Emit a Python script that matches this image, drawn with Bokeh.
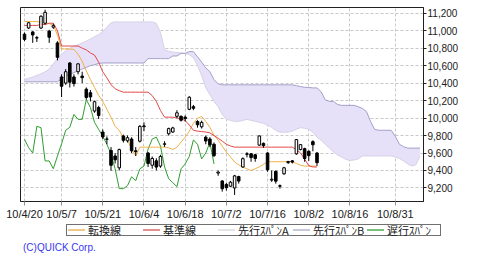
from bokeh.plotting import figure
from bokeh.models import Range1d, FixedTicker, NumeralTickFormatter, ColumnDataSource, Div
from bokeh.layouts import column
from bokeh.embed import file_html
from bokeh.resources import INLINE

# ---- data (x = trading-day index, 0 = 2010/4/20) ----
opens = [10960, 11030, 10985, 10920, 11030, 11085, 10995, 11040, 10860, 10470,
         10400, 10630, 10470, 10530, 10480, 10330, 10290, 10080, 10120, 9840,
         9760, 9630, 9566, 9430, 9795, 9740, 9760, 9625, 9735, 9910,
         9600, 9460, 9510, 9450, 9700, 9820, 9840, 10020, 10020, 10010,
         10100, 10130, 9960, 9900, 9781, 9760, 9700, 9370, 9280, 9240,
         9220, 9200, 9330, 9440, 9590, 9590, 9580, 9690, 9710, 9600,
         9290, 9390, 9225, 9362, 9490, 9510, 9590, 9640, 9650, 9620,
         9730, 9600]
highs = [10980, 11100, 10995, 10940, 11175, 11240, 11010, 11080, 10880, 10500,
         10560, 10640, 10500, 10630, 10530, 10350, 10320, 10200, 10140, 9870,
         9790, 9668, 9600, 9650, 9810, 9800, 9780, 9668, 9920, 9951,
         9610, 9560, 9540, 9580, 9735, 9890, 9900, 10090, 10030, 10030,
         10250, 10150, 9975, 9970, 9800, 9781, 9720, 9400, 9290, 9260,
         9280, 9350, 9340, 9550, 9610, 9600, 9590, 9800, 9720, 9610,
         9400, 9400, 9240, 9441, 9510, 9520, 9760, 9700, 9660, 9630,
         9745, 9610]
lows = [10880, 11020, 10860, 10870, 11020, 11070, 10860, 11020, 10660, 10240,
        10380, 10350, 10360, 10500, 10400, 10210, 10190, 10060, 9990, 9760,
        9700, 9396, 9480, 9400, 9720, 9720, 9600, 9566, 9720, 9850,
        9440, 9420, 9400, 9430, 9670, 9800, 9830, 10000, 9960, 9960,
        10090, 10090, 9890, 9880, 9700, 9667, 9554, 9339, 9158, 9170,
        9210, 9120, 9250, 9430, 9550, 9500, 9500, 9680, 9660, 9385,
        9270, 9249, 9192, 9350, 9475, 9480, 9580, 9630, 9500, 9510,
        9620, 9452]
closes = [10900, 11090, 10950, 10915, 11165, 11210, 10925, 11057, 10695, 10364,
          10530, 10411, 10394, 10620, 10462, 10235, 10242, 10187, 10030, 9784,
          9758, 9459, 9522, 9639, 9745, 9775, 9625, 9615, 9905, 9901,
          9480, 9537, 9439, 9560, 9705, 9879, 9887, 10060, 9975, 9995,
          10238, 10112, 9923, 9950, 9737, 9693, 9570, 9382, 9191, 9203,
          9266, 9338, 9279, 9535, 9585, 9548, 9537, 9795, 9685, 9408,
          9300, 9278, 9220, 9431, 9503, 9496, 9753, 9696, 9537, 9570,
          9694, 9489]

tenkan = [11105, 11105, 11105, 11105, 11090, 11090, 11080, 11060, 10950, 10790,
          10790, 10790, 10785, 10730, 10650, 10540, 10440, 10350, 10260, 10190,
          10100, 10010, 9905, 9860, 9770, 9750, 9645, 9565, 9667, 9667,
          9667, 9667, 9667, 9667, 9667, 9660, 9640, 9667, 9724, 9781,
          9849, 9940, 9996, 10019, 9962, 9894, 9803, 9747, 9679, 9611,
          9554, 9498, 9464, 9441, 9419, 9400, 9420, 9440, 9470, 9500,
          9500, 9500, 9500, 9500, 9500, 9500, 9480, 9460, 9450, 9450,
          9450, 9450]
kijun = [11060, 11060, 11060, 11060, 11070, 11070, 11085, 11085, 11000, 10824,
         10824, 10824, 10824, 10824, 10800, 10780, 10745, 10720, 10640, 10528,
         10460, 10381, 10336, 10313, 10296, 10296, 10296, 10296, 10296, 10296,
         10296, 10257, 10190, 10087, 10010, 10010, 10010, 10000, 9990, 9973,
         9920, 9860, 9850, 9845, 9840, 9830, 9800, 9770, 9735, 9700,
         9680, 9667, 9667, 9667, 9667, 9667, 9667, 9667, 9667, 9667,
         9667, 9667, 9667, 9667, 9667, 9667, 9640, 9600, 9530, 9455,
         9440, 9440]
senkou_a = [10440, 10455, 10470, 10490, 10505, 10530, 10560, 10620, 10680, 10730,
            10770, 10800, 10820, 10840, 10860, 10880, 10905, 10930, 10955, 10990,
            11040, 11090, 11100, 11100, 11100, 11100, 11100, 11100, 11100, 11100,
            11100, 11100, 11083, 10980, 10780, 10765, 10755, 10750, 10745, 10740,
            10725, 10690, 10600, 10485, 10347, 10268, 10190, 10130, 10040, 9985,
            9973, 9962, 9962, 9973, 9985, 9973, 9962, 9950, 9940, 9917,
            9894, 9860, 9838, 9838, 9838, 9849, 9872, 9890, 9883, 9872,
            9838, 9781, 9747, 9701, 9656, 9611, 9577, 9554, 9526, 9515,
            9520, 9532, 9566, 9566, 9566, 9566, 9566, 9566, 9566, 9566,
            9554, 9537, 9509, 9475, 9452, 9464, 9566]
senkou_b = [10415, 10415, 10415, 10415, 10415, 10415, 10415, 10415, 10415, 10450,
            10480, 10500, 10520, 10540, 10560, 10580, 10600, 10610, 10625, 10630,
            10630, 10630, 10630, 10630, 10630, 10630, 10630, 10630, 10630, 10630,
            10680, 10680, 10680, 10680, 10680, 10680, 10710, 10710, 10740, 10740,
            10760, 10760, 10700, 10640, 10575, 10530, 10440, 10392, 10380, 10380,
            10380, 10380, 10380, 10380, 10380, 10380, 10380, 10380, 10380, 10380,
            10380, 10380, 10380, 10380, 10380, 10380, 10370, 10360, 10352, 10350,
            10345, 10345, 10300, 10210, 10190, 10190, 10155, 10145, 10145, 10145,
            10145, 10130, 10110, 10075, 9962, 9870, 9860, 9860, 9860, 9860,
            9792, 9700, 9673, 9656, 9656, 9656, 9656]
chikou = [9758, 9662, 9600, 9905, 9890, 9509, 9509, 9420, 9566, 9705,
          9860, 9894, 10041, 9985, 9985, 10211, 10121, 9950, 9870, 9790,
          9700, 9588, 9419, 9192, 9192, 9226, 9328, 9283, 9419, 9450,
          9645, 9760, 9781, 9680, 9441, 9305, 9260, 9215, 9419, 9475,
          9560, 9750, 9700, 9532, 9600, 9720, 9475]

tick_idx = [0, 9, 19, 29, 39, 49, 59, 69, 79, 90]
tick_labels = ["10/4/20", "10/5/7", "10/5/21", "10/6/4", "10/6/18",
               "10/7/2", "10/7/16", "10/8/2", "10/8/16", "10/8/31"]
y_ticks = [9200, 9400, 9600, 9800, 10000, 10200, 10400, 10600, 10800, 11000, 11200]

legend_labels = ["転換線", "基準線", "先行ｽﾊﾟﾝA", "先行ｽﾊﾟﾝB", "遅行ｽﾊﾟﾝ"]
copyright_text = "(C)QUICK Corp."

# ---- styles ----
C_TENKAN = "#F0B048"
C_KIJUN = "#E24848"
C_A = "#D6D2E6"
C_B = "#A4A0C8"
C_CLOUD = "#E6E0F8"
C_CHIKOU = "#2E9E2E"
LEG_COLORS = ["#F0C88C", "#E89090", "#E4E4E4", "#C8C8DC", "#7CC07C"]

TOP_H = 222
p = figure(width=480, height=TOP_H, output_backend="svg", toolbar_location=None,
           x_range=Range1d(-0.97, 96.85), y_range=Range1d(9045, 11265),
           y_axis_location="right", min_border_left=20, min_border_right=57,
           min_border_top=7, min_border_bottom=TOP_H - 203)
p.background_fill_color = "white"
p.border_fill_color = "white"
p.outline_line_color = "#202020"
p.outline_line_width = 1

# grid
p.xgrid.ticker = FixedTicker(ticks=tick_idx)
p.ygrid.ticker = FixedTicker(ticks=y_ticks)
for g in (p.xgrid, p.ygrid):
    g.grid_line_color = "#C8C8C8"
    g.grid_line_dash = "3 2"
    g.grid_line_width = 1

# axes
p.xaxis.ticker = FixedTicker(ticks=tick_idx)
p.xaxis.major_label_overrides = {t: l for t, l in zip(tick_idx, tick_labels)}
p.yaxis.ticker = FixedTicker(ticks=y_ticks)
p.yaxis.formatter = NumeralTickFormatter(format="0,0")
for ax in (p.xaxis, p.yaxis):
    ax.axis_line_color = "#202020"
    ax.major_tick_in = 0
    ax.minor_tick_line_color = None
    ax.major_label_text_font = "Liberation Sans"
    ax.major_label_text_color = "#202020"
p.xaxis.major_tick_out = 4
p.xaxis.major_tick_line_color = "#909090"
p.xaxis.major_label_standoff = 2
p.xaxis.major_label_text_font_size = "11px"
p.yaxis.major_tick_out = 3
p.yaxis.major_tick_line_color = "#202020"
p.yaxis.major_label_standoff = 1
p.yaxis.major_label_text_font_size = "10px"

# cloud (senkou spans)
sx = list(range(len(senkou_a)))
p.varea(x=sx, y1=senkou_a, y2=senkou_b, fill_color=C_CLOUD)
p.line(sx, senkou_a, line_color=C_A, line_width=1)
p.line(sx, senkou_b, line_color=C_B, line_width=1)

# chikou / tenkan / kijun
p.line(list(range(len(chikou))), chikou, line_color=C_CHIKOU, line_width=1)
n = len(closes)
xi = list(range(n))
p.line(xi, tenkan, line_color=C_TENKAN, line_width=1)
p.line(xi, kijun, line_color=C_KIJUN, line_width=1)

# candles
src = ColumnDataSource(dict(
    x=xi, high=highs, low=lows,
    top=[max(o, c) for o, c in zip(opens, closes)],
    bottom=[min(o, c) for o, c in zip(opens, closes)],
    fill=["white" if c >= o else "black" for o, c in zip(opens, closes)],
))
p.segment(x0="x", y0="high", x1="x", y1="low", source=src, line_color="black", line_width=1)
p.vbar(x="x", width=0.62, top="top", bottom="bottom", source=src,
       fill_color="fill", line_color="black", line_width=1)

# ---- legend + copyright strip (HTML below the plot) ----
BOT_H = 261 - TOP_H
sw_x = [68, 143, 218, 293, 367]
parts = ['<div style="position:relative;width:480px;height:%dpx;margin:0;padding:0;'
         'background:white;overflow:hidden;">' % BOT_H]
parts.append('<div style="position:absolute;left:66px;top:2px;width:375px;height:12px;'
             'border:1px solid #707070;"></div>')
for sx0, col, lab in zip(sw_x, LEG_COLORS, legend_labels):
    parts.append('<div style="position:absolute;left:%dpx;top:7px;width:17px;height:2px;'
                 'background:%s;"></div>' % (sx0, col))
    parts.append('<div style="position:absolute;left:%dpx;top:2px;height:13px;'
                 'line-height:13px;font-family:\'Noto Sans CJK JP\';font-size:11px;'
                 'color:#202020;white-space:nowrap;">%s</div>' % (sx0 + 20, lab))
parts.append('<div style="position:absolute;left:23px;top:20px;height:12px;line-height:12px;'
             'font-family:\'Liberation Sans\';font-size:10px;color:#3838F0;'
             'white-space:nowrap;">%s</div>' % copyright_text)
parts.append('</div>')
leg = Div(text="".join(parts), width=480, height=BOT_H, margin=0)

layout = column(p, leg, spacing=0)
open("out.html", "w").write(file_html(layout, INLINE))
